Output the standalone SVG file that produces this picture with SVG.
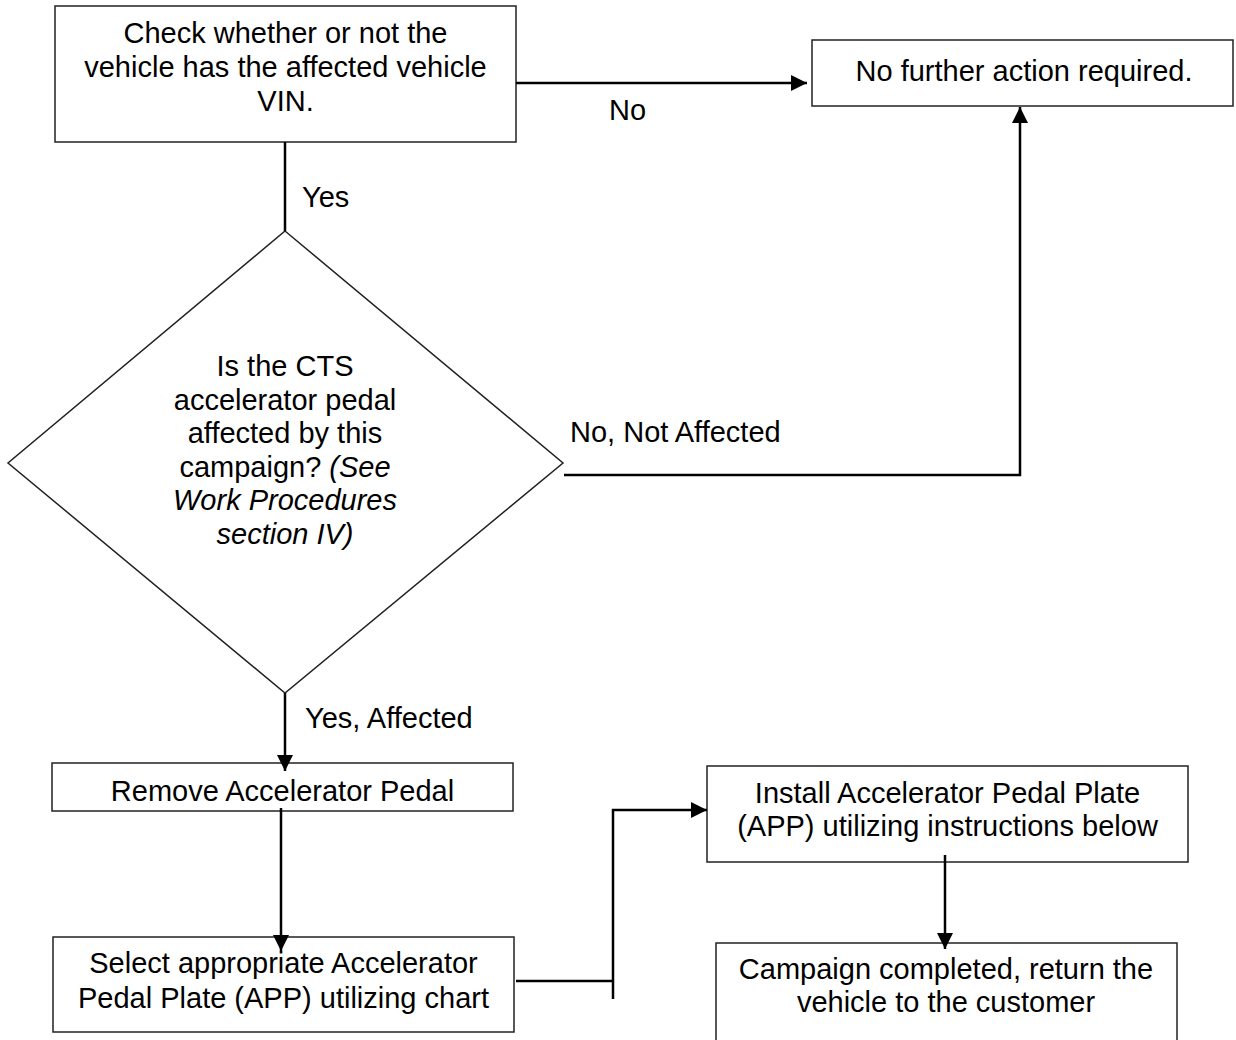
<svg xmlns="http://www.w3.org/2000/svg" width="1236" height="1040" viewBox="0 0 1236 1040">
<style>
.box{fill:#fff;stroke:#222;stroke-width:1.5}
.t{font-family:"Liberation Sans",Arial,sans-serif;font-size:29px;fill:#000}
.m{text-anchor:middle}
.i{font-style:italic}
.c{fill:none;stroke:#000;stroke-width:2.5}
</style>
<defs>
<marker id="ah" markerUnits="userSpaceOnUse" markerWidth="16" markerHeight="16" refX="16" refY="8" orient="auto">
<path d="M0,0 L16,8 L0,16 z" fill="#000"/>
</marker>
</defs>
<rect width="1236" height="1040" fill="#fff"/>
<g id="check-vin">
<rect class="box" x="55" y="6" width="461" height="136"/>
<text class="t m" x="285.5" y="43">Check whether or not the</text>
<text class="t m" x="285.5" y="77">vehicle has the affected vehicle</text>
<text class="t m" x="285.5" y="111">VIN.</text>
</g>
<g id="no-action">
<rect class="box" x="812" y="40" width="421" height="66"/>
<text class="t m" x="1024" y="81">No further action required.</text>
</g>
<g id="decision">
<polygon class="box" points="285,231 563,463 285,693 8,463"/>
<text class="t m" x="285" y="376">Is the CTS</text>
<text class="t m" x="285" y="410">accelerator pedal</text>
<text class="t m" x="285" y="443">affected by this</text>
<text class="t m" x="285" y="477">campaign? <tspan class="i">(See</tspan></text>
<text class="t m i" x="285" y="510">Work Procedures</text>
<text class="t m i" x="285" y="544">section IV)</text>
</g>
<g id="remove-pedal">
<rect class="box" x="52" y="763" width="461" height="48"/>
<text class="t m" x="282.5" y="801">Remove Accelerator Pedal</text>
</g>
<g id="select-app">
<rect class="box" x="53" y="937" width="461" height="95"/>
<text class="t m" x="283.5" y="973">Select appropriate Accelerator</text>
<text class="t m" x="283.5" y="1008">Pedal Plate (APP) utilizing chart</text>
</g>
<g id="install-app">
<rect class="box" x="707" y="766" width="481" height="96"/>
<text class="t m" x="947.5" y="803">Install Accelerator Pedal Plate</text>
<text class="t m" x="947.5" y="836">(APP) utilizing instructions below</text>
</g>
<g id="campaign-done">
<rect class="box" x="716" y="943" width="461" height="110"/>
<text class="t m" x="946" y="979">Campaign completed, return the</text>
<text class="t m" x="946" y="1012">vehicle to the customer</text>
</g>
<g id="connectors">
<path class="c" d="M516,83 H807" marker-end="url(#ah)"/>
<path class="c" d="M285,142 V231"/>
<path class="c" d="M564,475 H1020 V107" marker-end="url(#ah)"/>
<path class="c" d="M285,693 V771" marker-end="url(#ah)"/>
<path class="c" d="M281,808 V951" marker-end="url(#ah)"/>
<path class="c" d="M516,981 H613"/>
<path class="c" d="M613,999 V810 H707" marker-end="url(#ah)"/>
<path class="c" d="M945,855 V949" marker-end="url(#ah)"/>
<text class="t" x="609" y="120">No</text>
<text class="t" x="302" y="207">Yes</text>
<text class="t" x="570" y="442">No, Not Affected</text>
<text class="t" x="305" y="728">Yes, Affected</text>
</g>
</svg>
